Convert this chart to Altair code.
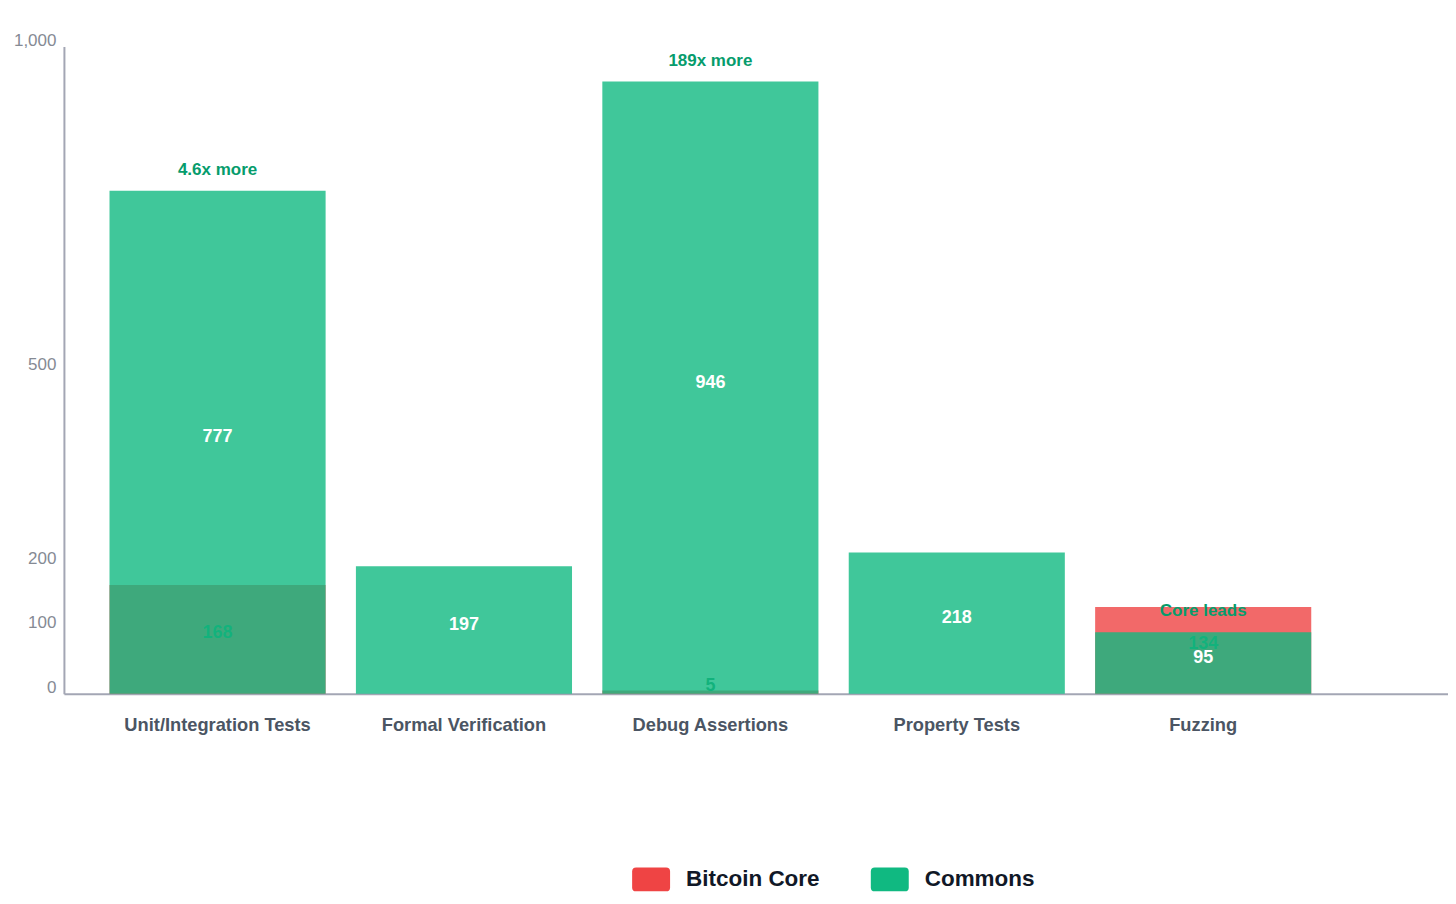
import altair as alt
import pandas as pd

categories = ["Unit/Integration Tests", "Formal Verification", "Debug Assertions", "Property Tests", "Fuzzing"]
commons = [777, 197, 946, 218, 95]
core = [168, 0, 5, 0, 134]
notes = ["4.6x more", "", "189x more", "", "Core leads"]
series = ["Bitcoin Core", "Commons"]
colors = ["#ef4444", "#10b981"]
y_ticks = [0, 100, 200, 500, 1000]

rows = []
for c, cm, co, n in zip(categories, commons, core, notes):
    rows.append({"category": c, "series": "Bitcoin Core", "value": co, "note": n})
    rows.append({"category": c, "series": "Commons", "value": cm, "note": n})
df = pd.DataFrame(rows)

FONT = "Liberation Sans, Arial, Helvetica, sans-serif"
AXIS_COLOR = "#a3a6b4"

x_enc = alt.X(
    "category:N",
    sort=categories,
    scale=alt.Scale(paddingInner=0.123, paddingOuter=0.37, align=0.25),
    axis=alt.Axis(
        title=None, labelAngle=0, ticks=False, grid=False,
        domainColor=AXIS_COLOR, domainWidth=2,
        labelFont=FONT, labelFontSize=18.3, labelFontWeight="bold",
        labelColor="#4b5563", labelPadding=23, labelLimit=0,
    ),
)
y_scale = alt.Scale(domain=[0, 1000], nice=False, zero=True)
y_axis = alt.Axis(
    title=None, values=y_ticks, ticks=False, grid=False,
    labelExpr="format(datum.value, ',d')",
    domainColor=AXIS_COLOR, domainWidth=2,
    labelFont=FONT, labelFontSize=17, labelColor="#858a94",
    labelPadding=8, labelOffset=-6,
)

PATH = ("M-0.79,-0.63 H0.79 Q1,-0.63 1,-0.42 V0.42 Q1,0.63 0.79,0.63 "
        "H-0.79 Q-1,0.63 -1,0.42 V-0.42 Q-1,-0.63 -0.79,-0.63 Z")

color_enc = alt.Color(
    "series:N",
    scale=alt.Scale(domain=series, range=colors),
    legend=alt.Legend(
        title=None, orient="none", legendX=569, legendY=815,
        direction="horizontal", padding=0,
        symbolType=PATH, symbolSize=1444, symbolOpacity=1, symbolStrokeWidth=0,
        labelFont=FONT, labelFontSize=22.5, labelFontWeight="bold",
        labelColor="#111827", labelOffset=16, columnPadding=51, labelLimit=0,
    ),
)

base = alt.Chart(df)

core_bars = base.transform_filter("datum.series == 'Bitcoin Core'").mark_bar(opacity=0.8).encode(
    x=x_enc,
    y=alt.Y("value:Q", scale=y_scale, axis=y_axis, stack=None),
    color=color_enc,
)
commons_bars = base.transform_filter("datum.series == 'Commons'").mark_bar(opacity=0.8).encode(
    x=x_enc,
    y=alt.Y("value:Q", scale=y_scale, axis=y_axis, stack=None),
    color=color_enc,
)

core_labels = base.transform_filter(
    "datum.series == 'Bitcoin Core' && datum.value > 0"
).transform_calculate(mid="datum.value / 2").mark_text(
    font=FONT, fontSize=18, fontWeight="bold", color="#1c986a", dy=-6, baseline="middle"
).encode(
    x=x_enc,
    y=alt.Y("mid:Q", scale=y_scale, axis=y_axis),
    text="value:Q",
)

commons_labels = base.transform_filter(
    "datum.series == 'Commons' && datum.value > 0"
).transform_calculate(mid="datum.value / 2").mark_text(
    font=FONT, fontSize=18, fontWeight="bold", color="#ffffff", dy=-5, baseline="middle"
).encode(
    x=x_enc,
    y=alt.Y("mid:Q", scale=y_scale, axis=y_axis),
    text="value:Q",
)

note_labels = base.transform_filter(
    "datum.series == 'Commons' && datum.note != ''"
).mark_text(
    font=FONT, fontSize=17, fontWeight="bold", color="#069c6c", dy=-21, baseline="middle"
).encode(
    x=x_enc,
    y=alt.Y("value:Q", scale=y_scale, axis=y_axis),
    text="note:N",
)

chart = alt.layer(
    core_bars, core_labels, commons_bars, commons_labels, note_labels
).properties(
    width=1386,
    height=648,
    autosize=alt.AutoSizeParams(type="none"),
    padding={"left": 56, "top": 38, "right": 0, "bottom": 200},
    background="#ffffff",
).configure_view(stroke=None)

chart.save("out.html", embed_options={"renderer": "svg", "actions": False})
